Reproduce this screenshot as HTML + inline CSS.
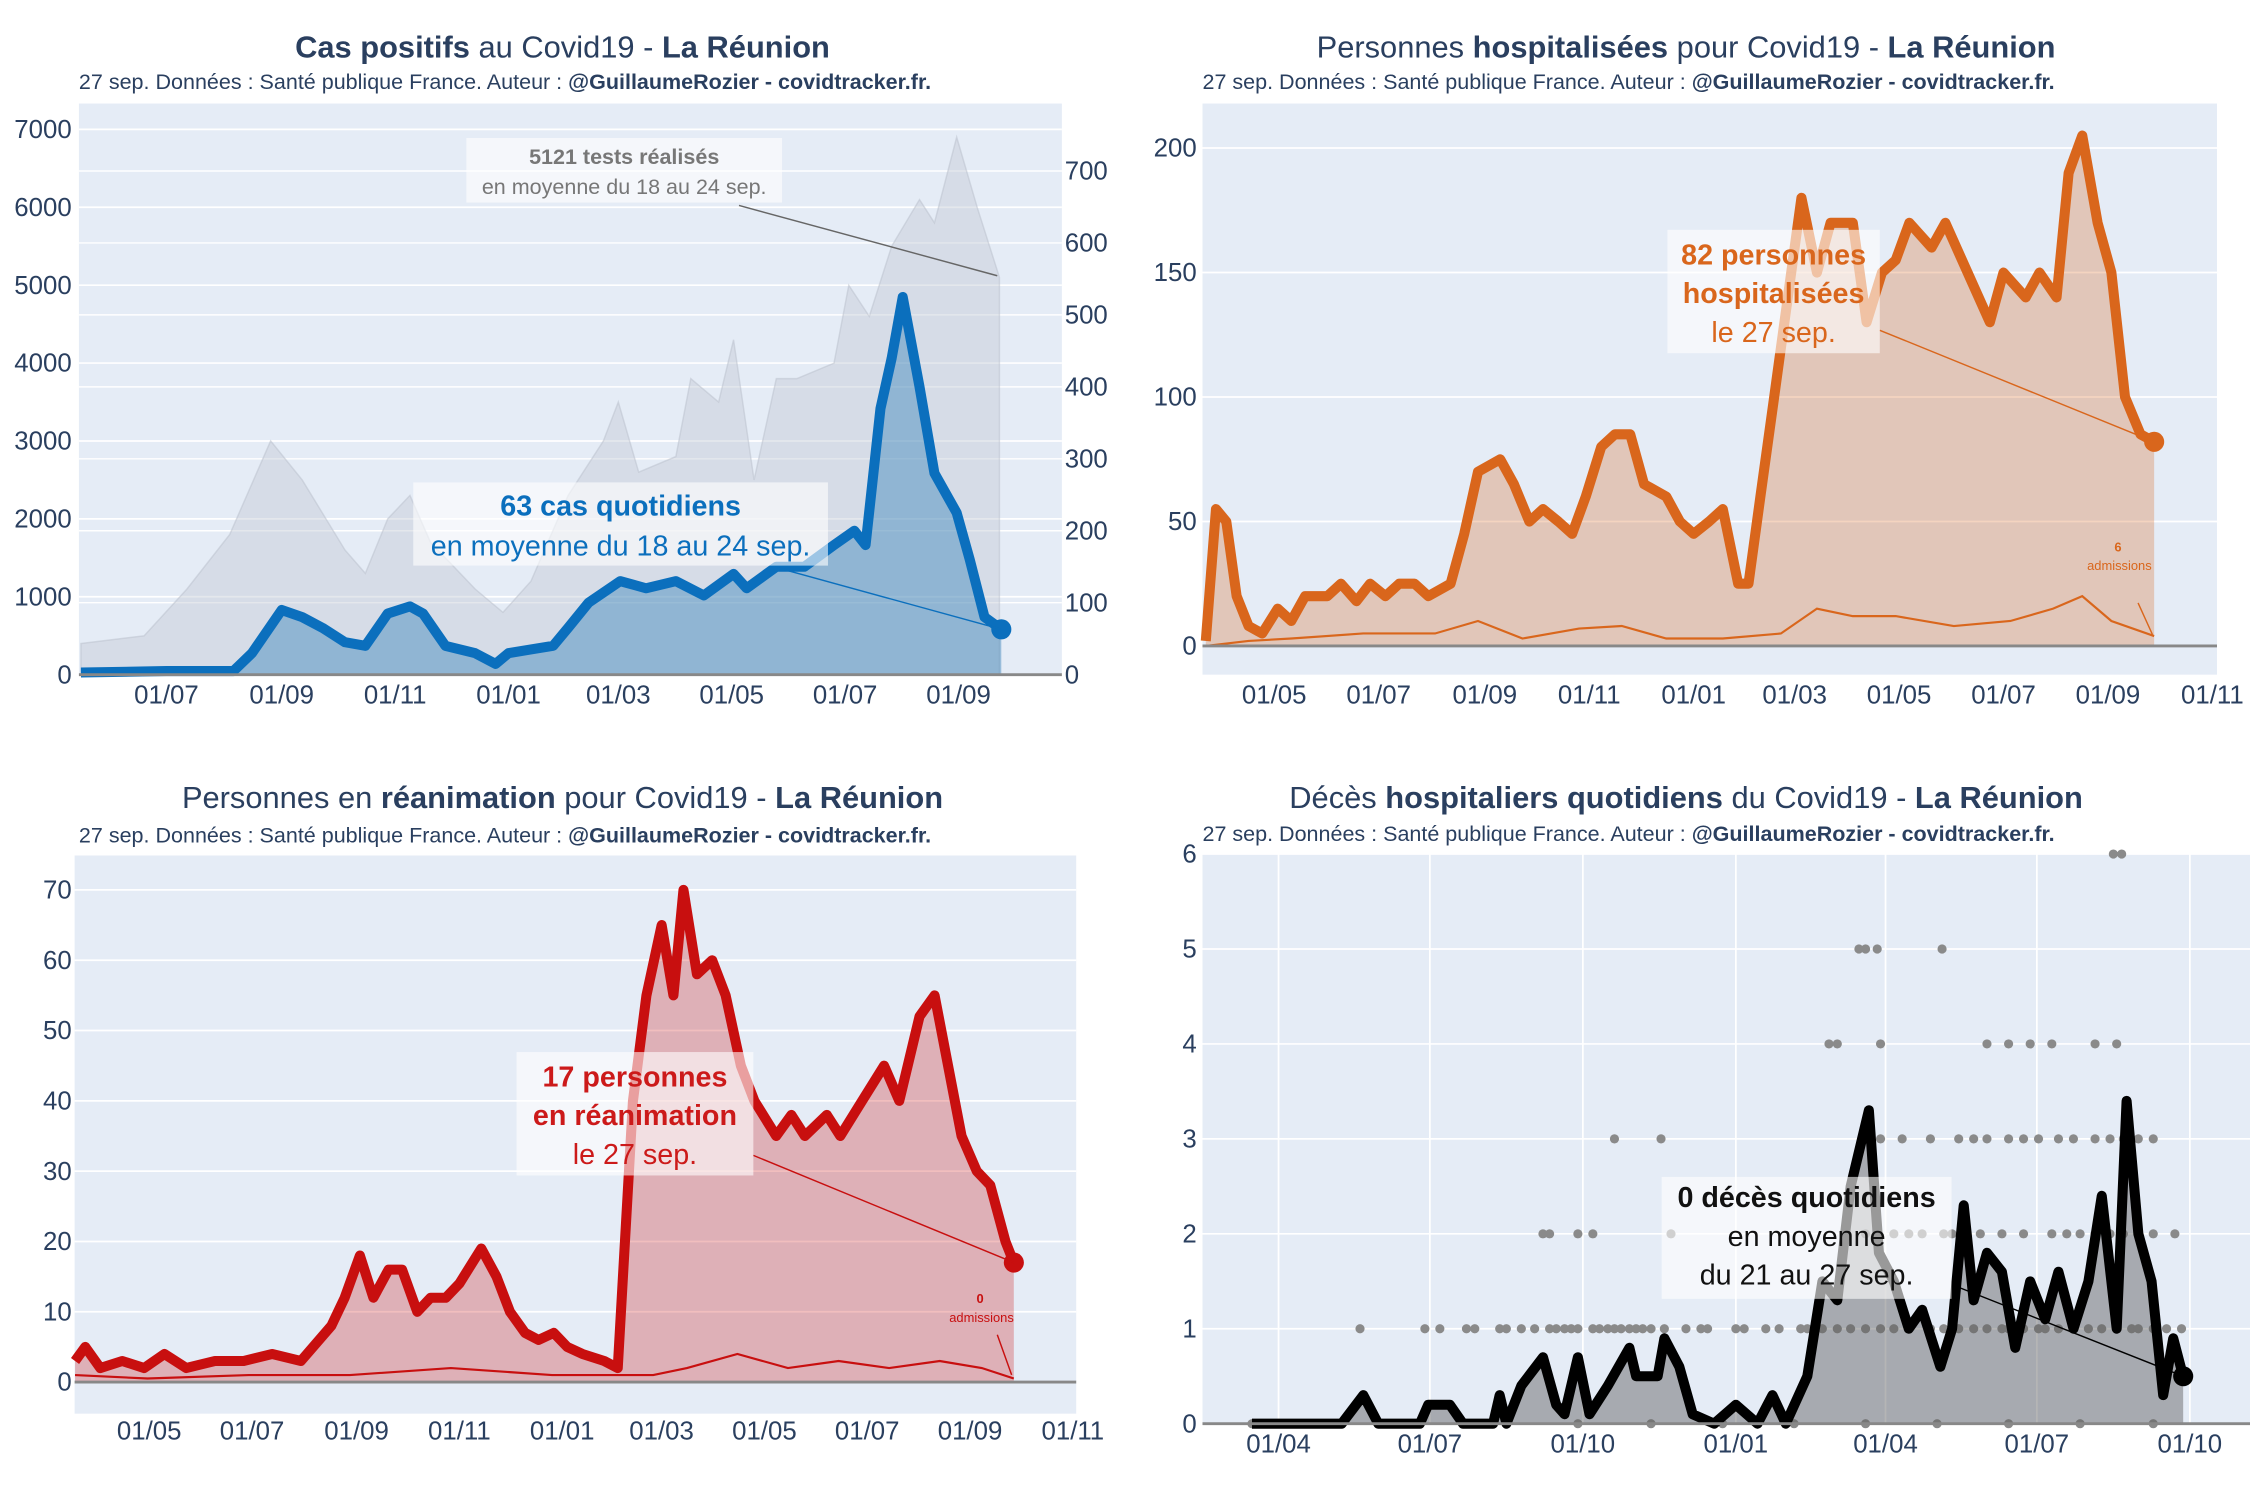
<!DOCTYPE html>
<html><head><meta charset="utf-8">
<style>
html,body{margin:0;padding:0;background:#fff;}
svg{display:block;font-family:"Liberation Sans",sans-serif;}
</style></head>
<body>
<svg id="chart" width="2250" height="1500" viewBox="0 0 1568 1045" xmlns="http://www.w3.org/2000/svg">
<g id="root"></g>
</svg>
<script>
// ---------- DATA (days since 2020-01-01) ----------
const casesDays=[136,182,218,228,244,255,266,278,289,301,313,320,332,348,359,366,378,390,398,409,426,440,456,471,487,494,510,525,541,552,558,566,572,578,587,595,607,614,622,631];
const casesVals=[3,5,5,30,90,80,65,45,40,85,95,85,40,30,15,30,35,40,65,100,130,120,130,110,140,120,150,150,180,200,180,370,440,525,400,280,225,160,80,63];
const testsDays=[136,170,193,216,238,255,278,289,301,313,324,348,363,378,398,417,425,436,456,464,479,487,498,510,521,541,549,560,572,587,595,607,618,630];
const testsVals=[400,500,1100,1800,3000,2500,1600,1300,2000,2300,1700,1100,800,1200,2300,3000,3500,2600,2800,3800,3500,4300,2500,3800,3800,4000,5000,4600,5500,6100,5800,6900,6000,5100];
const p1LeftTicks=[0,1000,2000,3000,4000,5000,6000,7000];
const p1RightTicks=[0,100,200,300,400,500,600,700];
const p1DateTicks=[182,244,305,366,425,486,547,608];
const p1DateLabels=["01/07","01/09","01/11","01/01","01/03","01/05","01/07","01/09"];

const hospDays=[81,87,93,99,106,114,123,131,139,152,160,169,177,186,194,203,211,224,232,240,253,261,270,278,287,295,303,312,320,329,337,350,358,366,375,383,392,398,405,413,421,429,438,446,459,467,476,484,492,505,513,526,539,547,560,568,578,585,593,602,610,618,627,635];
const hospVals=[2,55,50,20,8,5,15,10,20,20,25,18,25,20,25,25,20,25,45,70,75,65,50,55,50,45,60,80,85,85,65,60,50,45,50,55,25,25,60,100,140,180,150,170,170,130,150,155,170,160,170,150,130,150,140,150,140,190,205,170,150,100,85,82];
const hospAdmDays=[81,106,131,173,215,240,266,299,324,350,383,417,438,459,484,518,551,576,593,610,635];
const hospAdmVals=[0,2,3,5,5,10,3,7,8,3,3,5,15,12,12,8,10,15,20,10,4];
const p2Ticks=[0,50,100,150,200];
const p2DateTicks=[121,182,244,305,366,425,486,547,608,669];
const p2DateLabels=["01/05","01/07","01/09","01/11","01/01","01/03","01/05","01/07","01/09","01/11"];

const reaDays=[77,83,92,105,118,130,143,160,177,194,211,229,237,246,254,263,271,280,288,297,305,318,327,335,344,352,361,369,378,391,399,408,416,425,432,438,446,455,463,472,480,493,502,510,523,531,544,557,566,578,587,595,603,612,620,629,634];
const reaVals=[3,5,2,3,2,4,2,3,3,4,3,8,12,18,12,16,16,10,12,12,14,19,15,10,7,6,7,5,4,3,2,40,55,65,55,70,58,60,55,45,40,35,38,35,38,35,40,45,40,52,55,45,35,30,28,20,17];
const reaAdmDays=[77,120,180,240,300,360,420,440,470,500,530,560,590,615,634];
const reaAdmVals=[1,0.5,1,1,2,1,1,2,4,2,3,2,3,2,0.5];
const p3Ticks=[0,10,20,30,40,50,60,70];
const p3DateTicks=[121,182,244,305,366,425,486,547,608,669];
const p3DateLabels=p2DateLabels;

const decDays=[75,129,142,151,176,181,194,202,220,224,228,237,250,258,263,271,278,289,302,306,319,323,332,340,353,366,379,388,396,409,418,427,435,446,452,461,470,478,489,496,503,509,517,526,534,543,552,560,569,578,586,595,601,608,616,623,629,635];
const decVals=[0,0,0.3,0,0,0.2,0.2,0,0,0.3,0,0.4,0.7,0.2,0.1,0.7,0.1,0.4,0.8,0.5,0.5,0.9,0.6,0.1,0,0.2,0,0.3,0,0.5,1.5,1.3,2.5,3.3,1.8,1.5,1.0,1.2,0.6,1.0,2.3,1.3,1.8,1.6,0.8,1.5,1.1,1.6,1.0,1.5,2.4,1.0,3.4,2.0,1.5,0.3,0.9,0.5];
const dotLevels=[0,1,2,3,4,5,6];
const dotDays0=[75,88,228,271,315,358,401,444,487,530,573,617];
const dotDays1=[140,179,188,204,209,224,228,237,245,254,258,263,267,271,280,284,289,293,297,302,306,310,315,323,336,345,349,366,371,384,392,405,409,414,418,427,435,444,453,461,470,483,491,500,509,517,526,530,539,548,552,560,569,578,586,595,604,608,617,625,634];
const dotDays2=[250,254,271,280,327,431,444,461,470,478,491,496,504,513,526,539,556,565,573,582,591,599,608,617,630];
const dotDays3=[293,321,453,466,483,500,509,517,530,539,548,560,569,582,591,599,608,617];
const dotDays4=[422,427,453,517,530,543,556,582,595];
const dotDays5=[440,444,451,490];
const dotDays6=[593,598];
const p4Ticks=[0,1,2,3,4,5,6];
const p4DateTicks=[91,182,274,366,456,547,639];
const p4DateLabels=["01/04","01/07","01/10","01/01","01/04","01/07","01/10"];

// ---------- helpers ----------
const NS="http://www.w3.org/2000/svg";
const root=document.getElementById('root');
function el(tag,attrs,parent,text){const e=document.createElementNS(NS,tag);for(const k in attrs)e.setAttribute(k,attrs[k]);if(text!==undefined)e.textContent=text;(parent||root).appendChild(e);return e;}
function lin(d0,d1,r0,r1){return v=>r0+(v-d0)*(r1-r0)/(d1-d0);}
function pts(days,vals,sx,sy){return days.map((d,i)=>sx(d).toFixed(1)+","+sy(vals[i]).toFixed(1)).join(" ");}
function area(days,vals,sx,sy,y0){return "M"+sx(days[0])+","+y0+" L"+pts(days,vals,sx,sy).split(" ").join(" L")+" L"+sx(days[days.length-1])+","+y0+" Z";}
const TXT="#2a3f5f";
function title(cx,y,parts,name){const t=el('text',{x:cx,y:y,'text-anchor':'middle','font-size':21.5,fill:TXT});parts.forEach(p=>{el('tspan',p[1]?{'font-weight':'bold'}:{},t,p[0]);});return t;}
function subtitle(x,y,name){const t=el('text',{x:x,y:y,'font-size':15,fill:TXT});el('tspan',{},t,"27 sep. Données : Santé publique France. Auteur : ");el('tspan',{'font-weight':'bold'},t,"@GuillaumeRozier - covidtracker.fr.");}
function bg(x0,y0,x1,y1,name){const r=el('rect',{x:x0,y:y0,width:x1-x0,height:y1-y0,fill:'#e5ecf6'});}
function hgrid(ticks,sy,x0,x1,lx,anchor,name){ticks.forEach(t=>{el('line',{x1:x0,x2:x1,y1:sy(t),y2:sy(t),stroke:'#fff','stroke-width':1.2});const l=el('text',{x:lx,y:sy(t)+6,'text-anchor':anchor,'font-size':18,fill:TXT},root,String(t));});}
function dateLabels(ticks,labels,sx,y,name){ticks.forEach((t,i)=>{const l=el('text',{x:sx(t),y:y,'text-anchor':'middle','font-size':18,fill:TXT},root,labels[i]);});}
function annot(x,y,w,h,lines,color,name){const g=el('g',{});el('rect',{x:x,y:y,width:w,height:h,fill:'rgba(255,255,255,0.6)'},g);lines.forEach(l=>{el('text',{x:x+w/2,y:l[1],'text-anchor':'middle','font-size':l[2],fill:color,'font-weight':l[3]?'bold':'normal'},g,l[0]);});}

// ---------- PANEL 1 ----------
{
const sx=lin(182,608,116,668), sL=lin(0,7000,470,90), sR=lin(0,700,470,119);
bg(55,72,740,470,'cases-plot-area');
hgrid(p1LeftTicks,sL,55,740,50,'end','left-y-tick');
p1RightTicks.forEach(t=>{el('line',{x1:55,x2:740,y1:sR(t),y2:sR(t),stroke:'#fff','stroke-width':1});const l=el('text',{x:742,y:sR(t)+6,'font-size':18,fill:TXT},root,String(t));});
const ta=el('path',{d:area(testsDays,testsVals,sx,sL,470),fill:'rgba(195,202,212,0.45)',stroke:'rgba(185,192,204,0.5)','stroke-width':1});

const ca=el('path',{d:area(casesDays,casesVals,sx,sR,470),fill:'rgba(31,119,180,0.38)'});

const cl=el('polyline',{points:pts(casesDays,casesVals,sx,sR),fill:'none',stroke:'#0b6fbd','stroke-width':7,'stroke-linejoin':'round'});

el('line',{x1:55,x2:740,y1:470,y2:470,stroke:'#888','stroke-width':2});
const li=casesDays.length-1;
const dot=el('circle',{cx:sx(casesDays[li]),cy:sR(casesVals[li]),r:7,fill:'#0b6fbd'});

dateLabels(p1DateTicks,p1DateLabels,sx,490,'x-date-tick');
el('line',{x1:515,y1:143,x2:695,y2:192,stroke:'#666','stroke-width':1});
annot(325,96,220,45,[["5121 tests réalisés",114,15,true],["en moyenne du 18 au 24 sep.",135,15,false]],'#777','tests-annotation');
el('line',{x1:540,y1:395,x2:sx(casesDays[li]),y2:sR(casesVals[li]),stroke:'#0b6fbd','stroke-width':1});
annot(288,336,289,58,[["63 cas quotidiens",359,20,true],["en moyenne du 18 au 24 sep.",387,20,false]],'#0b6fbd','cases-annotation');
title(392,40,[["Cas positifs",1],[" au Covid19 - ",0],["La Réunion",1]],'cases-title');
subtitle(55,62,'cases-subtitle');
}
// ---------- PANEL 2 ----------
{
const sx=lin(121,608,888,1469), sy=lin(0,200,450,103);
bg(838,72,1545,470,'hosp-plot-area');
hgrid(p2Ticks,sy,838,1545,834,'end','hosp-y-tick');
const a=el('path',{d:area(hospDays,hospVals,sx,sy,450),fill:'rgba(217,102,28,0.28)'});

const l=el('polyline',{points:pts(hospDays,hospVals,sx,sy),fill:'none',stroke:'#d9661c','stroke-width':7,'stroke-linejoin':'round'});

const al=el('polyline',{points:pts(hospAdmDays,hospAdmVals,sx,sy),fill:'none',stroke:'#d9661c','stroke-width':1.5});

el('line',{x1:838,x2:1545,y1:450,y2:450,stroke:'#888','stroke-width':2});
const li=hospDays.length-1;
const dot=el('circle',{cx:sx(hospDays[li]),cy:sy(hospVals[li]),r:7,fill:'#d9661c'});

dateLabels(p2DateTicks,p2DateLabels,sx,490,'x-date-tick');
el('line',{x1:1310,y1:230,x2:sx(hospDays[li]),y2:sy(hospVals[li]),stroke:'#d9661c','stroke-width':1});
annot(1162,160,148,86,[["82 personnes",184,20,true],["hospitalisées",211,20,true],["le 27 sep.",238,20,false]],'#d9661c','hosp-annotation');
el('text',{x:1476,y:384,'text-anchor':'middle','font-size':9,fill:'#d9661c','font-weight':'bold'},root,"6");
el('text',{x:1477,y:397,'text-anchor':'middle','font-size':9,fill:'#d9661c'},root,"admissions");
el('line',{x1:1490,y1:420,x2:1500,y2:442,stroke:'#d9661c','stroke-width':1});
title(1175,40,[["Personnes ",0],["hospitalisées",1],[" pour Covid19 - ",0],["La Réunion",1]],'hosp-title');
subtitle(838,62,'hosp-subtitle');
}
// ---------- PANEL 3 ----------
{
const sx=lin(121,608,104,676), sy=lin(0,70,963,620);
bg(52,596,750,985,'rea-plot-area');
hgrid(p3Ticks,sy,52,750,50,'end','rea-y-tick');
const a=el('path',{d:area(reaDays,reaVals,sx,sy,963),fill:'rgba(204,20,20,0.28)'});

const l=el('polyline',{points:pts(reaDays,reaVals,sx,sy),fill:'none',stroke:'#c80f0f','stroke-width':7,'stroke-linejoin':'round'});

const al=el('polyline',{points:pts(reaAdmDays,reaAdmVals,sx,sy),fill:'none',stroke:'#c80f0f','stroke-width':1.5});

el('line',{x1:52,x2:750,y1:963,y2:963,stroke:'#888','stroke-width':2});
const li=reaDays.length-1;
const dot=el('circle',{cx:sx(reaDays[li]),cy:sy(reaVals[li]),r:7,fill:'#c80f0f'});

dateLabels(p3DateTicks,p3DateLabels,sx,1003,'x-date-tick');
el('line',{x1:525,y1:805,x2:sx(reaDays[li]),y2:sy(reaVals[li]),stroke:'#c80f0f','stroke-width':1});
annot(360,733,165,86,[["17 personnes",757,20,true],["en réanimation",784,20,true],["le 27 sep.",811,20,false]],'#cc1a1a','rea-annotation');
el('text',{x:683,y:908,'text-anchor':'middle','font-size':9,fill:'#c80f0f','font-weight':'bold'},root,"0");
el('text',{x:684,y:921,'text-anchor':'middle','font-size':9,fill:'#c80f0f'},root,"admissions");
el('line',{x1:695,y1:930,x2:705,y2:958,stroke:'#c80f0f','stroke-width':1});
title(392,563,[["Personnes en ",0],["réanimation",1],[" pour Covid19 - ",0],["La Réunion",1]],'rea-title');
subtitle(55,587,'rea-subtitle');
}
// ---------- PANEL 4 ----------
{
const sx=lin(91,456,891,1314), sy=lin(0,6,992,595);
bg(838,595,1568,992,'deaths-plot-area');
p4DateTicks.forEach(t=>el('line',{x1:sx(t),x2:sx(t),y1:595,y2:992,stroke:'#fff','stroke-width':1.2}));
hgrid(p4Ticks,sy,838,1568,834,'end','deaths-y-tick');
const dotGroups=[dotDays0,dotDays1,dotDays2,dotDays3,dotDays4,dotDays5,dotDays6];
dotGroups.forEach((days,k)=>{days.forEach(d=>{const c=el('circle',{cx:sx(d),cy:sy(dotLevels[k]),r:3.2,fill:'#8a8a8a'});});});
const a=el('path',{d:area(decDays,decVals,sx,sy,992),fill:'rgba(90,90,90,0.45)'});

const l=el('polyline',{points:pts(decDays,decVals,sx,sy),fill:'none',stroke:'#000','stroke-width':7,'stroke-linejoin':'round'});

el('line',{x1:838,x2:1568,y1:992,y2:992,stroke:'#888','stroke-width':2});
const li=decDays.length-1;
const dot=el('circle',{cx:sx(decDays[li]),cy:sy(decVals[li]),r:7,fill:'#000'});

dateLabels(p4DateTicks,p4DateLabels,sx,1012,'x-date-tick');
el('line',{x1:1360,y1:895,x2:sx(decDays[li]),y2:sy(decVals[li]),stroke:'#000','stroke-width':1});
annot(1158,820,202,85,[["0 décès quotidiens",841,20,true],["en moyenne",868,20,false],["du 21 au 27 sep.",895,20,false]],'#111','deaths-annotation');
title(1175,563,[["Décès ",0],["hospitaliers quotidiens",1],[" du Covid19 - ",0],["La Réunion",1]],'deaths-title');
subtitle(838,586,'deaths-subtitle');
}
</script>
</body></html>
